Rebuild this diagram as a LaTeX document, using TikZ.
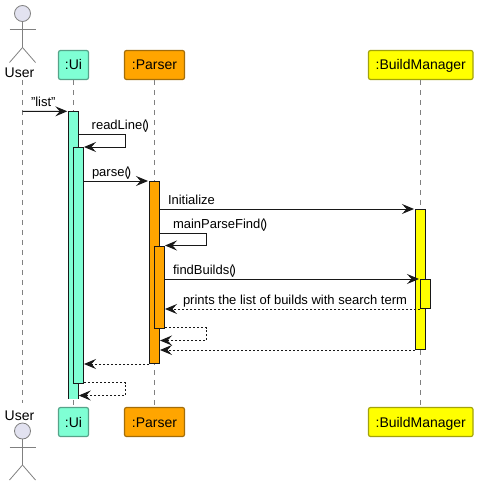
\documentclass[tikz,border=0pt]{standalone}
\usepackage{fontspec}
\setmainfont{Liberation Sans}
\usetikzlibrary{arrows.meta, positioning, calc}
\definecolor{uicol}{HTML}{7FFFD4}
\definecolor{parsercol}{HTML}{FFA500}
\definecolor{buildcol}{HTML}{FFFF00}
\definecolor{actorcol}{HTML}{E2E2F0}
\definecolor{inkcol}{HTML}{181818}
\definecolor{lifecol}{HTML}{808080}
\tikzset{
    participant/.style={rectangle, rounded corners=2pt, minimum height=29pt, inner sep=0pt, line width=1.2pt, text height=10pt, text depth=0pt, font=\fontsize{14}{16}\selectfont, text=black},
    actorlabel/.style={inner sep=0pt, text height=10pt, text depth=0pt, font=\fontsize{14}{16}\selectfont, text=black},
    actorline/.style={draw=lifecol, line width=0.8pt},
    lifeline/.style={draw=lifecol, line width=0.8pt, dash pattern=on 5pt off 5pt},
    activation/.style={rectangle, minimum width=10pt, inner sep=0pt, draw=inkcol, line width=1pt},
    msg/.style={draw=inkcol, line width=1pt, shorten >=1pt, -{Stealth[length=12pt, width=10pt, inset=4.5pt]}},
    selfmsg/.style={msg, shorten >=0pt},
    reply/.style={selfmsg, dash pattern=on 2pt off 2pt},
    msgtext/.style={anchor=base west, inner sep=0pt, yshift=5pt, font=\fontsize{13}{15}\selectfont, text=black}
}
\newcommand{\stickman}[1]{
    \draw[actorline, fill=actorcol] ($(#1)+(0,-16)$) circle (8pt);
    \draw[actorline] ($(#1)+(0,-8)$) -- ($(#1)+(0,18)$) -- ($(#1)+(-13,33)$);
    \draw[actorline] ($(#1)+(0,18)$) -- ($(#1)+(13,33)$);
    \draw[actorline] ($(#1)+(-13,0)$) -- ($(#1)+(13,0)$);
}
\newcommand{\callparens}{(\kern-2pt)}
\begin{document}
\begin{tikzpicture}[x=1pt, y=-1pt]
        \useasboundingbox (0,0) rectangle (478,487);

        % Participants
        \node (usertop) [actorlabel] at (19.5,72.7) {User};
        \node (userbot) [actorlabel] at (19.5,415) {User};
        \node (uitop) [participant, minimum width=30pt, draw=uicol!60!inkcol, fill=uicol] at (73.5,65) {:Ui};
        \node (uibot) [participant, minimum width=30pt, draw=uicol!60!inkcol, fill=uicol] at (73.5,422) {:Ui};
        \node (parsertop) [participant, minimum width=60pt, draw=parsercol!60!inkcol, fill=parsercol] at (154.5,65) {:Parser};
        \node (parserbot) [participant, minimum width=60pt, draw=parsercol!60!inkcol, fill=parsercol] at (154.5,422) {:Parser};
        \node (buildtop) [participant, minimum width=104.5pt, draw=buildcol!60!inkcol, fill=buildcol] at (420.75,65) {:BuildManager};
        \node (buildbot) [participant, minimum width=104.5pt, draw=buildcol!60!inkcol, fill=buildcol] at (420.75,422) {:BuildManager};

        % Actors
        \coordinate (usershoulder) at (22.5,29.5);
        \coordinate (usershoulderbot) at (22.5,447);
        \stickman{usershoulder}
        \stickman{usershoulderbot}

        % Lifelines
        \draw[lifeline, shorten <=2pt, shorten >=7pt] (usertop.south -| usershoulder) -- (userbot.north -| usershoulder);
        \draw[lifeline] (uitop.south) -- (uibot.north);
        \draw[lifeline] (parsertop.south) -- (parserbot.north);
        \draw[lifeline] (buildtop.south -| 420.5,0) -- (buildbot.north -| 420.5,0);

        % Activations
        \node (ui1) [rectangle, minimum width=10pt, inner sep=0pt, fill=uicol, minimum height=287.5pt] at (73.5,255.25) {};
        \draw[draw=inkcol, line width=1pt] (ui1.south west) |- (ui1.north east) -- (ui1.south east);
        \node (ui2) [activation, fill=uicol, minimum height=236pt] at (78.5,265.5) {};
        \node (parser1) [activation, fill=parsercol, minimum height=182pt] at (154.5,272.5) {};
        \node (parser2) [activation, fill=parsercol, minimum height=82pt] at (159.5,287) {};
        \node (build1) [activation, fill=buildcol, minimum height=140pt] at (420.5,279.5) {};
        \node (build2) [activation, fill=buildcol, minimum height=29pt] at (425.5,294) {};

        % Flows
        \coordinate (userstart) at (22.5,111.5);
        \coordinate (readturn) at (125.5,134.5);
        \coordinate (findturn) at (206.5,233.5);
        \coordinate (findback) at (206.5,327.5);
        \coordinate (parseback) at (125.5,382.5);

        \draw[msg] (userstart) -- node[msgtext, pos=0, xshift=8pt] {"list"} (ui1.north west);
        \draw[selfmsg] (ui1.east |- readturn) -- node[msgtext, pos=0, xshift=12.5pt] {readLine\callparens} (readturn) |- (ui2.north east);
        \draw[msg] (ui2.east |- parser1.north) -- node[msgtext, pos=0, xshift=7.5pt] {parse\callparens} (parser1.north west);
        \draw[msg] (parser1.east |- build1.north) -- node[msgtext, pos=0, xshift=7.5pt] {Initialize} (build1.north west);
        \draw[selfmsg] (parser1.east |- findturn) -- node[msgtext, pos=0, xshift=12.5pt] {mainParseFind\callparens} (findturn) |- (parser2.north east);
        \draw[msg] (parser2.east |- build2.north) -- node[msgtext, pos=0, xshift=7.5pt] {findBuilds\callparens} (build2.north west);
        \draw[reply] (build2.south west) -- node[msgtext, pos=1, xshift=17.5pt] {prints the list of builds with search term} (parser2.east |- build2.south);
        \draw[reply] (parser2.east |- findback) -- (findback) |- ($(parser1.east |- findback)+(0,13)$);
        \draw[reply] (build1.south west) -- (parser1.east |- build1.south);
        \draw[reply] (parser1.south west) -- (ui2.east |- parser1.south);
        \draw[reply] (ui2.east |- parseback) -- (parseback) |- ($(ui1.east |- parseback)+(0,13)$);
    \end{tikzpicture}
\end{document}
